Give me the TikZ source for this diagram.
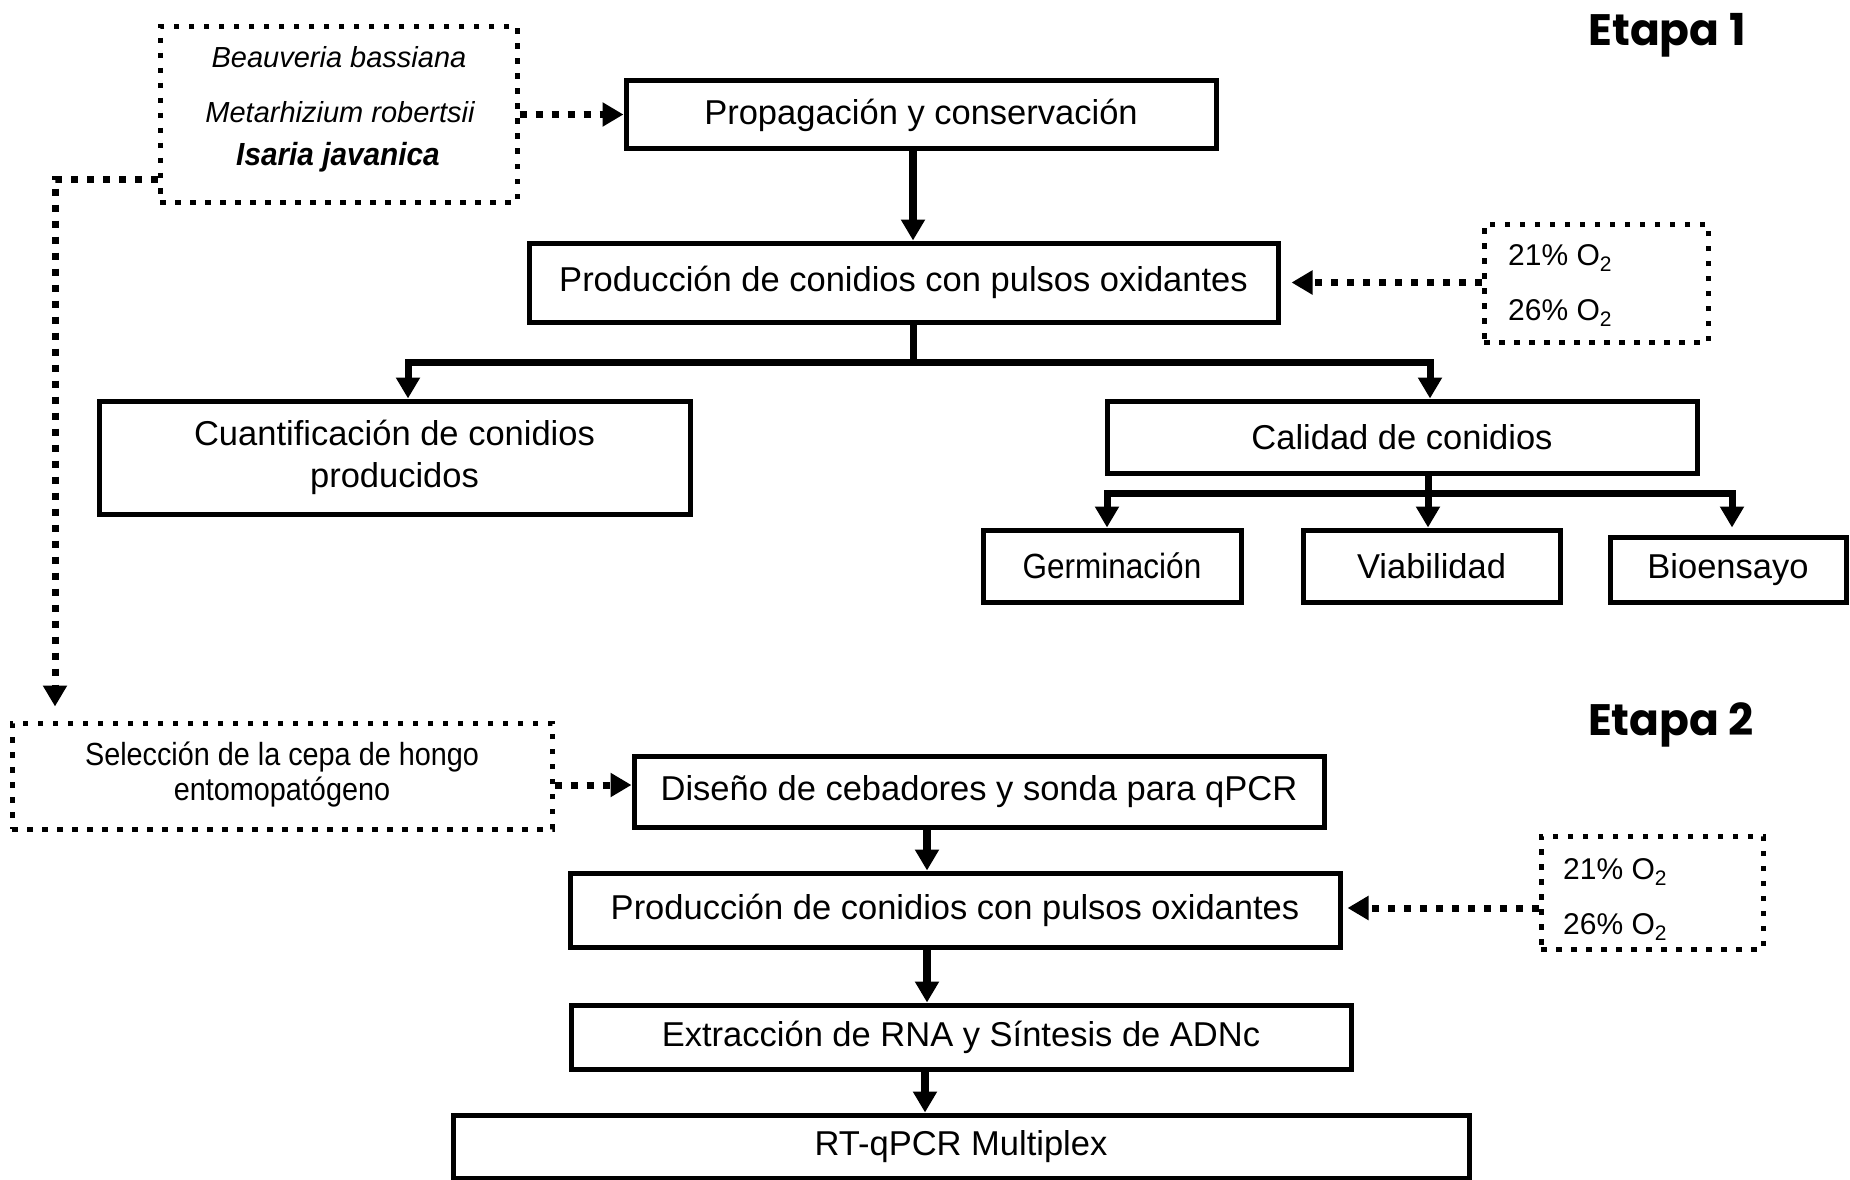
\documentclass[tikz,border=0pt]{standalone}
\usepackage{fontspec}
\setmainfont{Liberation Sans}
\newfontfamily\isfont[FakeStretch=0.93]{Liberation Sans}
\newfontfamily\cndfont[FakeStretch=0.9]{Liberation Sans}
\newfontfamily\etapafont{Poppins}
\usetikzlibrary{arrows.meta,calc}
\tikzset{bigtri/.tip={Triangle[width=23pt,length=21pt]}}
\begin{document}
\begin{tikzpicture}[x=1pt,y=-1pt,
  tbox/.style={draw,line width=5pt,inner sep=0pt,align=center,font=\fontsize{34.5}{42}\selectfont},
  dbox/.style={draw,line width=5pt,dash pattern=on 5.5pt off 9.5pt,inner sep=0pt},
  lbl/.style={inner sep=0pt,anchor=base west,font=\fontsize{30}{30}\selectfont},
  sptxt/.style={inner sep=0pt,anchor=base,font=\fontsize{29}{29}\selectfont\itshape},
  sarr/.style={line width=8pt,-bigtri},
  barr/.style={line width=7pt,-bigtri},
  brl/.style={line width=7pt},
  darr/.style={line width=7pt,dash pattern=on 7pt off 9pt,-bigtri},
  etp/.style={inner sep=0pt,anchor=base,font=\etapafont\bfseries\fontsize{44}{44}\selectfont}
]
\useasboundingbox (0,0) rectangle (1850,1180);

% Etapa labels
\node[etp] (et1) at (1667,46) {Etapa 1};
\node[etp] (et2) at (1671,735) {Etapa 2};

% species box
\node[dbox,minimum width=357pt,minimum height=175pt] (sp) at (338.5,114.5) {};
\node[sptxt] (sp1) at (339,68) {Beauveria bassiana};
\node[sptxt] (sp2) at (340,123) {Metarhizium robertsii};
\node[inner sep=0pt,anchor=base,font=\isfont\fontsize{32}{32}\selectfont\bfseries\itshape] (sp3) at (338,165) {Isaria javanica};

% Etapa 1 boxes
\node[tbox,minimum width=590pt,minimum height=68pt] (prop) at (921,115) {Propagación y conservación};
\node[tbox,minimum width=749pt,minimum height=79pt] (prod1) at (903.5,282.5) {Producción de conidios con pulsos oxidantes};
\node[dbox,minimum width=224pt,minimum height=118pt] (ox1) at (1596,283) {};
\node[lbl] (ox1a) at (1508,265) {21\% O\textsubscript{2}};
\node[lbl] (ox1b) at (1508,320) {26\% O\textsubscript{2}};
\node[tbox,minimum width=591pt,minimum height=113pt] (cuan) at (394.5,457.5) {Cuantificación de conidios\\producidos};
\node[tbox,minimum width=590pt,minimum height=72pt] (cal) at (1402,437) {Calidad de conidios};
\node[tbox,minimum width=258pt,minimum height=72pt,font=\cndfont\fontsize{35}{42}\selectfont] (ger) at (1112,566) {Germinación};
\node[tbox,minimum width=257pt,minimum height=72pt] (via) at (1431.5,566) {Viabilidad};
\node[tbox,minimum width=236pt,minimum height=65pt] (bio) at (1728,569.5) {Bioensayo};

% Etapa 2 boxes
\node[dbox,minimum width=540pt,minimum height=106pt] (sel) at (282,776) {};
\node[inner sep=0pt,anchor=base,font=\cndfont\fontsize{32}{32}\selectfont] (sel1) at (282,765) {Selección de la cepa de hongo};
\node[inner sep=0pt,anchor=base,font=\cndfont\fontsize{32}{32}\selectfont] (sel2) at (282,800) {entomopatógeno};
\node[tbox,minimum width=690pt,minimum height=71pt] (dis) at (979,791.5) {Diseño de cebadores y sonda para qPCR};
\node[tbox,minimum width=770pt,minimum height=74pt] (prod2) at (955,910) {Producción de conidios con pulsos oxidantes};
\node[dbox,minimum width=222pt,minimum height=113pt] (ox2) at (1652,892.5) {};
\node[lbl] (ox2a) at (1563,879) {21\% O\textsubscript{2}};
\node[lbl] (ox2b) at (1563,934) {26\% O\textsubscript{2}};
\node[tbox,minimum width=780pt,minimum height=64pt] (ext) at (961,1037) {Extracción de RNA y Síntesis de ADNc};
\node[tbox,minimum width=1016pt,minimum height=63pt] (rt) at (961,1146.5) {RT-qPCR Multiplex};

% helper coordinates
\coordinate (xA) at (913,0);
\coordinate (j1) at (913,362);
\coordinate (xL) at (408,0);
\coordinate (xR) at (1430,0);
\coordinate (j2) at (1428,493);
\coordinate (xG) at (1107,0);
\coordinate (xB) at (1732,0);
\coordinate (yS) at (0,179);
\coordinate (xS) at (55,0);
\coordinate (yD) at (0,785);
\coordinate (xM) at (927,0);
\coordinate (yP) at (0,908);
\coordinate (xN) at (925,0);

% Etapa 1 connectors
\draw[darr] (sp.east) -- (prop.west |- sp.east);
\draw[sarr] (prop.south -| xA) -- (prod1.north -| xA);
\draw[darr,shorten >=11pt] (ox1.west |- prod1.east) -- (prod1.east);
\draw[brl] (prod1.south -| j1) -- (j1);
\draw[barr] (j1) -| (xL |- cuan.north);
\draw[barr] (j1) -| (xR |- cal.north);
\draw[brl] (cal.south -| j2) -- (j2);
\draw[barr] (j2) -| (xG |- ger.north);
\draw[barr] (j2) -- (via.north -| j2);
\draw[barr,shorten >=7pt] (j2) -| (xB |- bio.north);

% Etapa 2 connectors
\draw[darr,shorten >=14pt] (sp.west |- yS) -| (xS |- sel.north);
\draw[darr] (sel.east |- yD) -- (dis.west |- yD);
\draw[sarr] (dis.south -| xM) -- (prod2.north -| xM);
\draw[darr,shorten >=5pt] (ox2.west |- yP) -- (prod2.east |- yP);
\draw[sarr] (prod2.south -| xM) -- (ext.north -| xM);
\draw[sarr] (ext.south -| xN) -- (rt.north -| xN);
\end{tikzpicture}
\end{document}
